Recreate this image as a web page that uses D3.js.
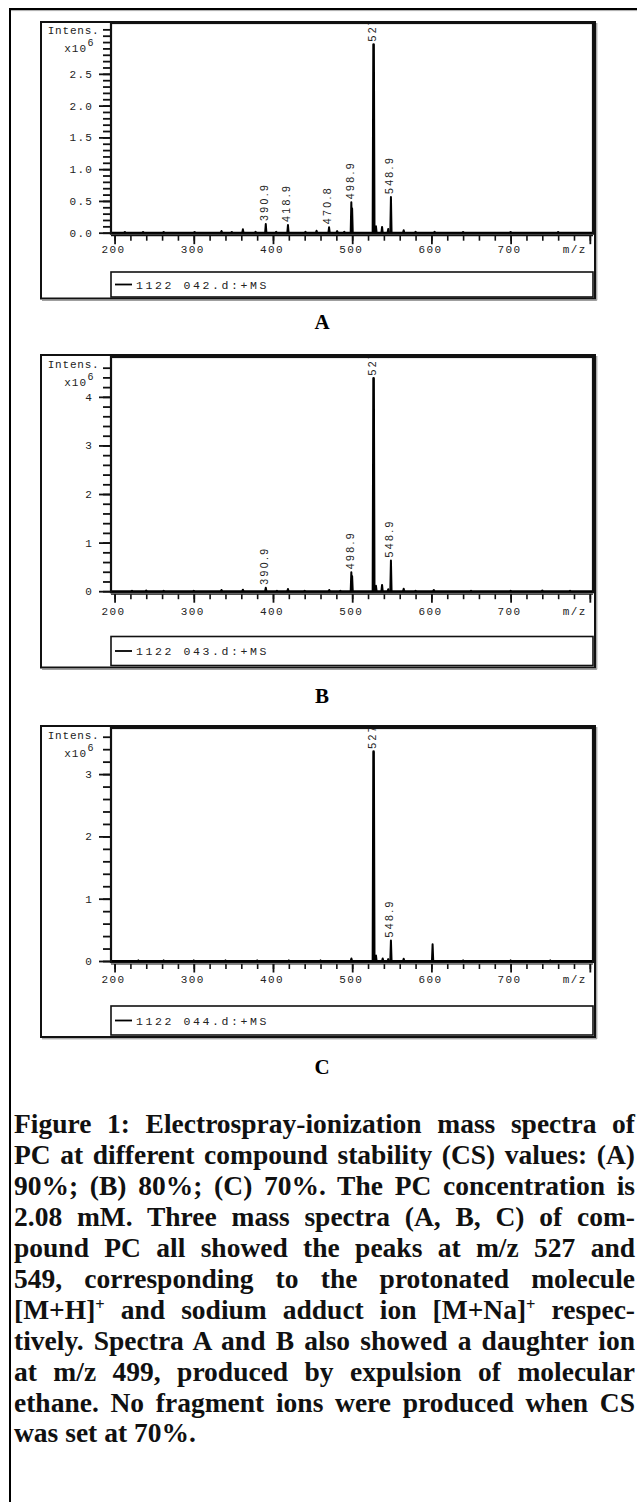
<!DOCTYPE html>
<html>
<head>
<meta charset="utf-8">
<script src="https://cdn.jsdelivr.net/npm/d3@7"></script>
<style>
  body { margin: 0; background: #fff; }
  #fig { position: relative; width: 637px; height: 1502px; overflow: hidden; }
  #fig svg { position: absolute; left: 0; top: 0; }
  .cap { position: absolute; left: 14px; width: 621px; font-family: "Liberation Serif", "Times New Roman", serif;
         font-weight: bold; font-size: 27.5px; line-height: 30.9px; color: #111; }
  .cap div { text-align: justify; text-align-last: justify; white-space: nowrap; }
  .cap div.last { text-align-last: left; }
  .cap sup { font-size: 0.6em; line-height: 0; vertical-align: 0.55em; }
</style>
</head>
<body>
<div id="fig"></div>
<script>
// ---- data (intensity in x10^6) ----
const panelNames = ["A", "B", "C"];
const legendNames = ["1122 042.d:+MS", "1122 043.d:+MS", "1122 044.d:+MS"];
const mzMajorTicks = [200, 300, 400, 500, 600, 700, 800];
const mzTickLabels = ["200", "300", "400", "500", "600", "700", "m/z"];
const intensityLabelsA = [0, 0.5, 1.0, 1.5, 2.0, 2.5];
const intensityLabelsB = [0, 1, 2, 3, 4];
const intensityLabelsC = [0, 1, 2, 3];

const spectrumA = [
  [213, 0.01], [236, 0.01], [262, 0.01], [301, 0.01], [335, 0.027], [348, 0.01], [362, 0.053],
  [378, 0.015], [390.9, 0.137], [404, 0.015], [418.9, 0.12], [441, 0.015], [455, 0.03],
  [470.8, 0.085], [481, 0.025], [490, 0.015], [498.9, 0.48], [499.9, 0.38], [527, 2.96],
  [530, 0.10], [537.7, 0.09], [545.5, 0.06], [548.9, 0.56], [565, 0.04], [580, 0.015],
  [604, 0.015], [640, 0.01], [700, 0.01], [760, 0.01]
];
const spectrumB = [
  [222, 0.01], [240, 0.015], [262, 0.01], [300, 0.01], [335, 0.025], [362, 0.03], [390.9, 0.07],
  [405, 0.01], [418.9, 0.045], [440, 0.01], [471, 0.025], [485, 0.01], [498.9, 0.39],
  [499.9, 0.31], [527, 4.38], [530, 0.11], [537.7, 0.13], [545.5, 0.04], [548.9, 0.63],
  [565, 0.05], [580, 0.01], [603, 0.025], [650, 0.01], [700, 0.01], [740, 0.015], [775, 0.01]
];
const spectrumC = [
  [230, 0.01], [262, 0.01], [300, 0.01], [340, 0.01], [380, 0.01], [420, 0.01], [460, 0.01],
  [499, 0.04], [527, 3.36], [530, 0.09], [538.5, 0.04], [545.5, 0.03], [548.9, 0.33],
  [565, 0.035], [601.5, 0.27], [640, 0.01], [700, 0.01], [750, 0.01]
];
const peakLabelsA = [390.9, 418.9, 470.8, 498.9, 527, 548.9];
const peakLabelsB = [390.9, 498.9, 527, 548.9];
const peakLabelsC = [527, 548.9];

const captionLines = [
  "Figure 1: Electrospray-ionization mass spectra of",
  "PC at different compound stability (CS) values: (A)",
  "90%; (B) 80%; (C) 70%. The PC concentration is",
  "2.08 mM. Three mass spectra (A, B, C) of com-",
  "pound PC all showed the peaks at m/z 527 and",
  "549, corresponding to the protonated molecule",
  "[M+H]<sup>+</sup> and sodium adduct ion [M+Na]<sup>+</sup> respec-",
  "tively. Spectra A and B also showed a daughter ion",
  "at m/z 499, produced by expulsion of molecular",
  "ethane. No fragment ions were produced when CS",
  "was set at 70%."
];

// ---- layout ----
const W = 637, H = 1502;
const frameL = 41, frameR = 595, plotL = 111, plotR = 593;

const panels = [
  { spectrum: spectrumA, peaks: peakLabelsA, yLabels: intensityLabelsA, yFmt: d3.format(".1f"),
    yStep: 0.1, yTop: 3.2, yMax: 3.30,
    top: 22, plotTop: 23, base: 232.7, tickY: 249.5, legTop: 272, legBot: 297, bottom: 298.5, letterY: 322 },
  { spectrum: spectrumB, peaks: peakLabelsB, yLabels: intensityLabelsB, yFmt: d3.format("d"),
    yStep: 0.2, yTop: 4.6, yMax: 4.82,
    top: 355, plotTop: 357, base: 591.2, tickY: 611.5, legTop: 636.5, legBot: 665.5, bottom: 667.5, letterY: 696 },
  { spectrum: spectrumC, peaks: peakLabelsC, yLabels: intensityLabelsC, yFmt: d3.format("d"),
    yStep: 0.2, yTop: 3.6, yMax: 3.74,
    top: 726, plotTop: 728, base: 961, tickY: 979.5, legTop: 1006, legBot: 1035, bottom: 1037, letterY: 1066.5 }
];

const fig = d3.select("#fig");
const svg = fig.append("svg").attr("width", W).attr("height", H);
const defs = svg.append("defs");

// outer figure box (right and bottom run off the page)
svg.append("rect")
  .attr("x", 10).attr("y", 9).attr("width", W + 20).attr("height", H + 20)
  .attr("fill", "none").attr("stroke", "#000").attr("stroke-width", 2);
svg.append("line")
  .attr("x1", 11).attr("x2", W).attr("y1", 10.6).attr("y2", 10.6)
  .attr("stroke", "#aaa").attr("stroke-width", 1);

const x = d3.scaleLinear().domain([195.5, 804]).range([plotL, plotR]);
const monoFont = '"Liberation Mono", "Courier New", monospace';
const spike = d3.line().x(d => x(d[0]));

panels.forEach((p, i) => {
  const y = d3.scaleLinear().domain([0, p.yMax]).range([p.base, p.plotTop]);
  const g = svg.append("g");

  // instrument frame
  g.append("rect")
    .attr("x", frameL).attr("y", p.top)
    .attr("width", frameR - frameL).attr("height", p.bottom - p.top)
    .attr("fill", "none").attr("stroke", "#111").attr("stroke-width", 2);
  g.append("path")
    .attr("d", `M${frameR + 1.8},${p.top + 1}V${p.bottom + 1.8}H${frameL + 1}`)
    .attr("fill", "none").attr("stroke", "#888").attr("stroke-width", 1);

  // plot box
  g.append("rect")
    .attr("x", plotL).attr("y", p.plotTop)
    .attr("width", plotR - plotL).attr("height", p.base + 1 - p.plotTop)
    .attr("fill", "none").attr("stroke", "#111").attr("stroke-width", 2.2);

  // y axis ticks
  const minor = d3.range(0, p.yTop + 1e-6, p.yStep);
  g.append("g")
    .attr("transform", `translate(${plotL - 1},0)`)
    .call(d3.axisLeft(y).tickValues(minor).tickSize(7).tickFormat(""))
    .call(a => a.select(".domain").remove())
    .call(a => a.selectAll("line").attr("stroke", "#111").attr("stroke-width", 1.8));
  g.append("g")
    .attr("transform", `translate(${plotL - 1},0)`)
    .call(d3.axisLeft(y).tickValues(p.yLabels).tickSize(11).tickPadding(6).tickFormat(p.yFmt))
    .call(a => a.select(".domain").remove())
    .call(a => a.selectAll("line").attr("stroke", "#111").attr("stroke-width", 1.8))
    .call(a => a.selectAll("text")
      .attr("font-family", monoFont).attr("font-size", 11)
      .attr("letter-spacing", 1.2).attr("fill", "#222"));

  // y axis caption
  g.append("text")
    .attr("x", 99.5).attr("y", p.plotTop + 7).attr("dy", "0.35em")
    .attr("text-anchor", "end")
    .attr("font-family", monoFont).attr("font-size", 11).attr("letter-spacing", 0.8).attr("fill", "#222")
    .text("Intens.");
  g.append("text")
    .attr("x", 87).attr("y", p.plotTop + 25.5).attr("dy", "0.35em")
    .attr("text-anchor", "end")
    .attr("font-family", monoFont).attr("font-size", 11).attr("letter-spacing", 1).attr("fill", "#222")
    .text("x10");
  g.append("text")
    .attr("x", 87.5).attr("y", p.plotTop + 19).attr("dy", "0.35em")
    .attr("font-family", monoFont).attr("font-size", 10).attr("fill", "#222")
    .text("6");

  // x axis
  const axisY = p.base + 3;
  g.append("line")
    .attr("x1", plotL).attr("x2", plotR).attr("y1", axisY).attr("y2", axisY)
    .attr("stroke", "#111").attr("stroke-width", 1.2);
  g.append("g")
    .attr("transform", `translate(0,${axisY})`)
    .call(d3.axisBottom(x).tickValues(d3.range(200, 801, 20)).tickSize(5).tickFormat(""))
    .call(a => a.select(".domain").remove())
    .call(a => a.selectAll("line").attr("stroke", "#111").attr("stroke-width", 1.6));
  g.append("g")
    .attr("transform", `translate(0,${axisY})`)
    .call(d3.axisBottom(x).tickValues(mzMajorTicks).tickSize(8.5).tickFormat(""))
    .call(a => a.select(".domain").remove())
    .call(a => a.selectAll("line").attr("stroke", "#111").attr("stroke-width", 1.8));
  g.selectAll(".mzlab")
    .data(mzMajorTicks)
    .join("text")
    .attr("x", (d, k) => x(d) - (k === mzMajorTicks.length - 1 ? 15 : 1))
    .attr("y", p.tickY).attr("dy", "0.35em")
    .attr("text-anchor", "middle")
    .attr("font-family", monoFont).attr("font-size", 11).attr("letter-spacing", 1.4).attr("fill", "#222")
    .text((d, k) => mzTickLabels[k]);

  // spectrum
  const clipId = "plotclip" + i;
  defs.append("clipPath").attr("id", clipId)
    .append("rect")
    .attr("x", plotL + 1).attr("y", p.plotTop + 1)
    .attr("width", plotR - plotL - 2).attr("height", p.base - p.plotTop + 1);
  const sg = g.append("g").attr("clip-path", `url(#${clipId})`);
  spike.y(d => y(d[1]));
  sg.append("path")
    .attr("d", spike([[196, 0], [803, 0]]))
    .attr("stroke", "#000").attr("stroke-width", 1.8).attr("fill", "none");
  sg.selectAll(".peak")
    .data(p.spectrum)
    .join("path")
    .attr("d", d => spike([[d[0] - 0.8, 0], [d[0], d[1]], [d[0] + 0.8, 0]]))
    .attr("stroke", "#000").attr("stroke-width", d => d[1] > 2 ? 2.6 : 2).attr("fill", "none")
    .attr("stroke-linejoin", "round");
  sg.selectAll(".plab")
    .data(p.peaks)
    .join("text")
    .attr("transform", d => {
      const h = p.spectrum.find(s => Math.abs(s[0] - d) < 0.05)[1];
      return `translate(${x(d) + 2.2},${y(h) - 3}) rotate(-90)`;
    })
    .attr("font-family", '"Liberation Sans", Arial, sans-serif')
    .attr("font-size", 10.5).attr("letter-spacing", 2.4).attr("fill", "#222")
    .text(d => String(d));

  // legend
  g.append("rect")
    .attr("x", plotL).attr("y", p.legTop)
    .attr("width", plotR - plotL).attr("height", p.legBot - p.legTop)
    .attr("fill", "none").attr("stroke", "#111").attr("stroke-width", 1.6);
  const ly = (p.legTop + p.legBot) / 2;
  g.append("line")
    .attr("x1", plotL + 4).attr("x2", plotL + 21).attr("y1", ly).attr("y2", ly)
    .attr("stroke", "#000").attr("stroke-width", 1.8);
  g.append("text")
    .attr("x", plotL + 25).attr("y", ly).attr("dy", "0.35em")
    .attr("font-family", monoFont).attr("font-size", 11.5).attr("letter-spacing", 2.6).attr("fill", "#222")
    .text(legendNames[i]);

  // panel letter
  svg.append("text")
    .attr("x", 322).attr("y", p.letterY).attr("dy", "0.35em")
    .attr("text-anchor", "middle")
    .attr("font-family", '"Liberation Serif", "Times New Roman", serif')
    .attr("font-weight", "bold").attr("font-size", 21)
    .text(panelNames[i]);
});

// caption
fig.append("div")
  .attr("class", "cap")
  .style("top", "1109.4px")
  .selectAll("div")
  .data(captionLines)
  .join("div")
  .attr("class", (d, k) => k === captionLines.length - 1 ? "last" : null)
  .html(d => d);
</script>
</body>
</html>
